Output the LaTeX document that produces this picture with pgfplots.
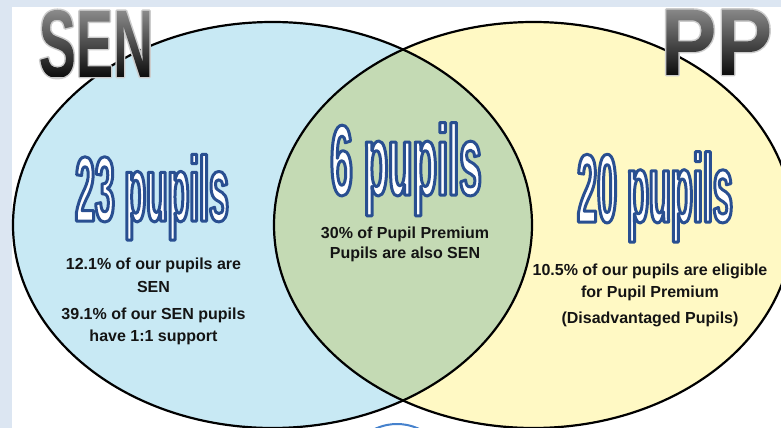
\documentclass[border=0pt]{standalone}
\usepackage{pgfplots}
\pgfplotsset{compat=1.18}
\usepackage{fontspec}
\setmainfont{Liberation Sans}
\newfontfamily\numA[FakeStretch=0.385]{Liberation Sans Bold}
\newfontfamily\numB[FakeStretch=0.40]{Liberation Sans Bold}
\newfontfamily\numC[FakeStretch=0.37]{Liberation Sans Bold}
\newfontfamily\senfont[FakeStretch=0.58]{Liberation Sans Bold}
\newfontfamily\ppfont[FakeStretch=0.88]{Liberation Sans Bold}
\definecolor{bgband}{RGB}{220,230,242}
\definecolor{sencol}{RGB}{200,233,244}
\definecolor{ppcol}{RGB}{255,249,196}
\definecolor{bothcol}{RGB}{196,218,180}
\definecolor{circblue}{RGB}{70,130,205}
\definecolor{txt}{RGB}{20,20,20}
\pgfdeclareverticalshading{hdrshade}{135bp}{color(0bp)=(black!95); color(72bp)=(black!42)}
% white letters with a dark blue outline
\newcommand{\outl}[1]{{\color{white}\special{pdf:literal direct 0.16 0.31 0.57 RG 3 w 1 j 2 Tr}#1\special{pdf:literal direct 0 Tr 1 w}}}
% grey gradient letters with a light edge
\newcommand{\hdr}[1]{\setbox0\hbox{#1}%
  {\color{black!20}\special{pdf:literal direct 3 w 1 j 6 Tr}\copy0\special{pdf:literal direct 0 Tr}}%
  \kern-\wd0\rlap{\pgfuseshading{hdrshade}}\kern\wd0}
\begin{document}
\begin{tikzpicture}
\begin{axis}[
  scale only axis, width=781bp, height=428bp,
  xmin=0, xmax=781, ymin=0, ymax=428, y dir=reverse,
  hide axis, clip=true]
\fill[bgband] (axis cs:0,0) rectangle (axis cs:781,428);
\fill[white] (axis cs:12,7) rectangle (axis cs:781,428);
\fill[sencol] (axis cs:272.5,225) ellipse [x radius=259.5, y radius=203];
\fill[ppcol] (axis cs:533.5,225) ellipse [x radius=259.5, y radius=203];
\begin{scope}
\clip (axis cs:272.5,225) ellipse [x radius=259.5, y radius=203];
\fill[bothcol] (axis cs:533.5,225) ellipse [x radius=259.5, y radius=203];
\end{scope}
\draw[black, line width=2.2bp] (axis cs:272.5,225) ellipse [x radius=259.5, y radius=203];
\draw[black, line width=2.2bp] (axis cs:533.5,225) ellipse [x radius=259.5, y radius=203];
\draw[circblue, line width=2bp, fill=white] (axis cs:397,476) circle [radius=52];
% big counts
\node[anchor=base, inner sep=0] at (axis cs:152,221) {\fontsize{92bp}{92bp}\numA\outl{23 pupils}};
\node[anchor=base, inner sep=0] at (axis cs:406,195) {\fontsize{100bp}{100bp}\numB\outl{6 pupils}};
\node[anchor=base, inner sep=0] at (axis cs:655,222) {\fontsize{97bp}{97bp}\numC\outl{20 pupils}};
% small texts
\begin{scope}[every node/.style={anchor=base, inner sep=0, text=txt, font=\fontsize{16bp}{19bp}\selectfont\bfseries}]
\node at (axis cs:153.5,269) {12.1\% of our pupils are};
\node at (axis cs:153.5,292) {SEN};
\node at (axis cs:153.5,319) {39.1\% of our SEN pupils};
\node at (axis cs:153.5,341) {have 1:1 support};
\node at (axis cs:405,238) {30\% of Pupil Premium};
\node at (axis cs:405,258) {Pupils are also SEN};
\node at (axis cs:650,275) {10.5\% of our pupils are eligible};
\node at (axis cs:650,297) {for Pupil Premium};
\node at (axis cs:650,323) {(Disadvantaged Pupils)};
\end{scope}
% headers
\node[anchor=base, inner sep=0] at (axis cs:96,77) {\hdr{\fontsize{96bp}{96bp}\senfont SEN}};
\node[anchor=base, inner sep=0] at (axis cs:716.5,75) {\hdr{\fontsize{95bp}{95bp}\ppfont PP}};
\end{axis}
\end{tikzpicture}
\end{document}
